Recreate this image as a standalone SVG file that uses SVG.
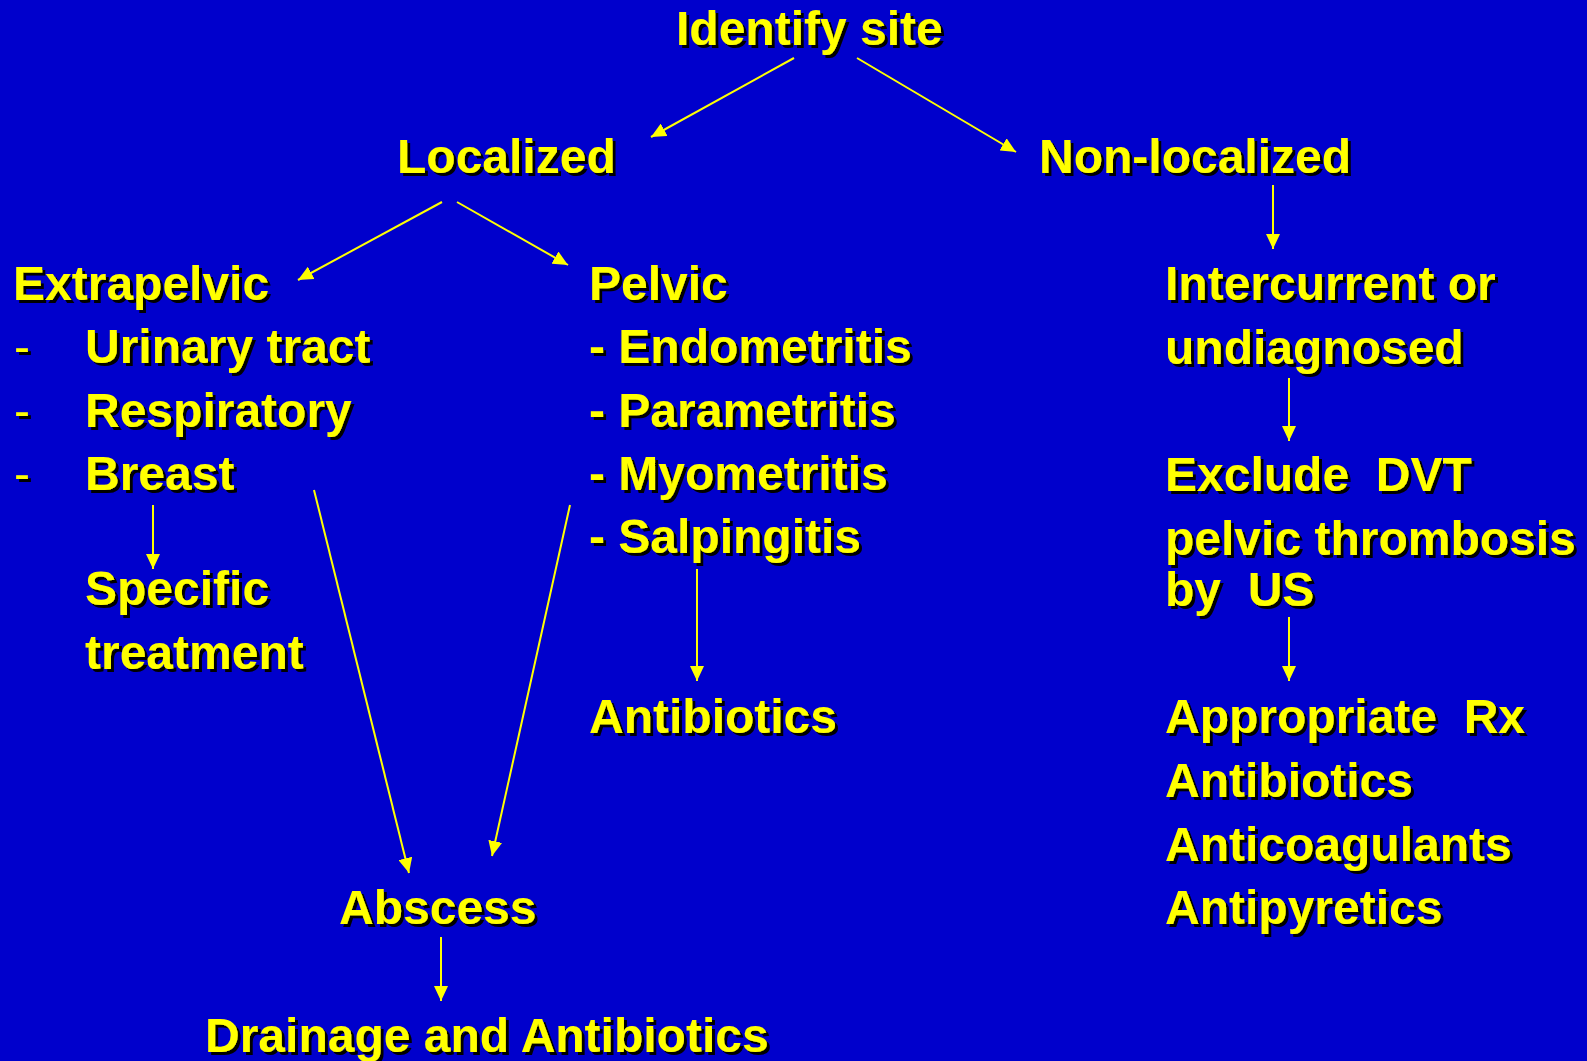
<svg xmlns="http://www.w3.org/2000/svg" width="1587" height="1061" viewBox="0 0 1587 1061">
<style>
text{font-family:"Liberation Sans",Arial,sans-serif;font-weight:bold;font-size:48px;fill:#FFFF00;filter:url(#sh)}
text.d{font-weight:normal}
.c line{stroke:#FFFF00;stroke-width:2;marker-end:url(#ah)}
</style>
<defs>
<filter id="sh" x="-5%" y="-20%" width="110%" height="140%">
<feFlood flood-color="#000000"/>
<feComposite in2="SourceAlpha" operator="in"/>
<feOffset dx="2.5" dy="2.5" result="s"/>
<feMerge><feMergeNode in="s"/><feMergeNode in="SourceGraphic"/></feMerge>
</filter>
<marker id="ah" markerUnits="userSpaceOnUse" markerWidth="16" markerHeight="14" refX="15" refY="7" orient="auto">
<path d="M0,0 L15,7 L0,14 Z" fill="#FFFF00"/>
</marker>
</defs>
<rect width="1587" height="1061" fill="#0000CC"/>
<g class="c" id="connectors">
<line x1="794" y1="58" x2="651" y2="137"/>
<line x1="857" y1="58" x2="1016" y2="152"/>
<line x1="442" y1="202" x2="298" y2="280"/>
<line x1="457" y1="202" x2="568" y2="265"/>
<line x1="1273" y1="185" x2="1273" y2="249"/>
<line x1="1289" y1="378" x2="1289" y2="441"/>
<line x1="1289" y1="617" x2="1289" y2="681"/>
<line x1="153" y1="505" x2="153" y2="569"/>
<line x1="697" y1="569" x2="697" y2="681"/>
<line x1="314" y1="490" x2="409" y2="873"/>
<line x1="570" y1="505" x2="492" y2="856"/>
<line x1="441" y1="937" x2="441" y2="1001"/>
</g>
<g id="identify"><text x="676" y="45">Identify site</text></g>
<g id="localized"><text x="397" y="173">Localized</text></g>
<g id="nonlocalized"><text x="1039" y="173">Non-localized</text></g>
<g id="extrapelvic">
<text x="13" y="300">Extrapelvic</text>
<text class="d" x="14" y="363">-</text><text x="85" y="363">Urinary tract</text>
<text class="d" x="14" y="427">-</text><text x="85" y="427">Respiratory</text>
<text class="d" x="14" y="490">-</text><text x="85" y="490">Breast</text>
</g>
<g id="specific">
<text x="85" y="605">Specific</text>
<text x="85" y="669">treatment</text>
</g>
<g id="pelvic">
<text x="589" y="300">Pelvic</text>
<text x="589" y="363">- Endometritis</text>
<text x="589" y="427">- Parametritis</text>
<text x="589" y="490">- Myometritis</text>
<text x="589" y="553">- Salpingitis</text>
</g>
<g id="antibiotics"><text x="589" y="733">Antibiotics</text></g>
<g id="intercurrent">
<text x="1165" y="300">Intercurrent or</text>
<text x="1165" y="364">undiagnosed</text>
</g>
<g id="exclude">
<text x="1165" y="491" xml:space="preserve">Exclude  DVT</text>
<text x="1165" y="555">pelvic thrombosis</text>
<text x="1165" y="606" xml:space="preserve">by  US</text>
</g>
<g id="appropriate">
<text x="1165" y="733" xml:space="preserve">Appropriate  Rx</text>
<text x="1165" y="797">Antibiotics</text>
<text x="1165" y="861">Anticoagulants</text>
<text x="1165" y="924">Antipyretics</text>
</g>
<g id="abscess"><text x="339" y="924">Abscess</text></g>
<g id="drainage"><text x="205" y="1052">Drainage and Antibiotics</text></g>
</svg>
